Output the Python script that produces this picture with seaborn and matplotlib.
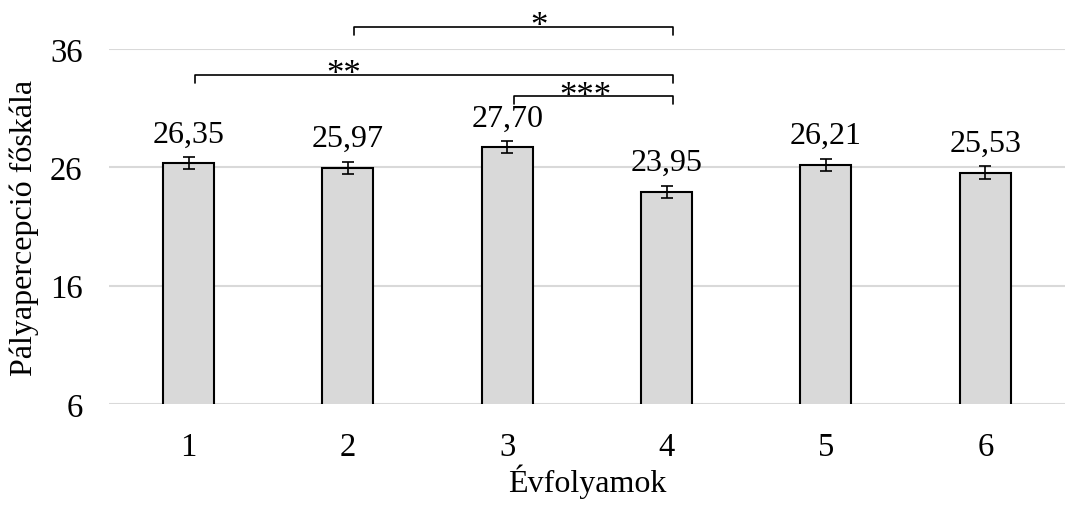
import pandas as pd
import matplotlib
matplotlib.use('Agg')
import matplotlib.pyplot as plt
import seaborn as sns

# Chart data
grades = ['1', '2', '3', '4', '5', '6']
means = [26.35, 25.97, 27.70, 23.95, 26.21, 25.53]
errors = [0.50, 0.50, 0.50, 0.50, 0.50, 0.55]
value_labels = ['26,35', '25,97', '27,70', '23,95', '26,21', '25,53']

# Significance brackets: (from index, to index, bracket level, label, label x)
sig_from = [1, 0, 2]
sig_to = [3, 3, 3]
sig_level = [37.85, 33.8, 32.0]
sig_text = ['*', '**', '***']
sig_text_x = [2.2, 0.97, 2.49]

# Set plotting style
sns.set_style('white')
plt.rcParams['font.family'] = ['Liberation Serif', 'DejaVu Serif']
plt.rcParams['text.color'] = 'black'
plt.rcParams['axes.labelcolor'] = 'black'
plt.rcParams['xtick.color'] = 'black'
plt.rcParams['ytick.color'] = 'black'


def main():

    df = pd.DataFrame({'Évfolyam': grades, 'Érték': means})

    fig = plt.figure(figsize=(10.65, 5.06), dpi=100)
    ax = fig.add_axes([0.1023, 0.1996, 0.8977, 0.7016])

    # Bars
    sns.barplot(data=df, x='Évfolyam', y='Érték', color='#d9d9d9',
                edgecolor='black', linewidth=1.5, width=0.32,
                saturation=1, errorbar=None, ax=ax, zorder=3)

    # Error bars
    ax.errorbar(range(len(grades)), means, yerr=errors, fmt='none',
                ecolor='black', elinewidth=1.2, capsize=4, capthick=1.2,
                zorder=4)

    # Value labels above bars
    for i, (m, e, lab) in enumerate(zip(means, errors, value_labels)):
        ax.text(i, m + e + 0.75, lab, ha='center', va='bottom', fontsize=23)

    # Significance brackets
    tick = 0.65
    for a, b, lvl, txt, tx in zip(sig_from, sig_to, sig_level, sig_text,
                                  sig_text_x):
        ax.plot([a + 0.04, a + 0.04, b + 0.04, b + 0.04],
                [lvl - tick, lvl, lvl, lvl - tick], color='black',
                linewidth=1.2, clip_on=False, zorder=5)
        ax.text(tx, lvl - 0.7, txt, ha='center', va='baseline', fontsize=25,
                clip_on=False)

    # Axes formatting
    ax.set_ylim(6, 36)
    ax.set_xlim(-0.5, 5.5)
    ax.set_yticks([6, 16, 26, 36])
    ax.yaxis.grid(True, color='#d9d9d9', linewidth=1.5, zorder=0)
    ax.set_axisbelow(True)
    for s in ax.spines.values():
        s.set_visible(False)
    ax.tick_params(axis='both', length=0, labelsize=23.5)
    ax.tick_params(axis='y', pad=19)
    ax.tick_params(axis='x', pad=20)
    ax.set_xlabel('Évfolyamok', fontsize=23, labelpad=1)
    ax.set_ylabel('Pályapercepció főskála', fontsize=23, labelpad=8)

    fig.savefig('out.png', dpi=100)
    plt.close(fig)


if __name__ == "__main__":
    main()
